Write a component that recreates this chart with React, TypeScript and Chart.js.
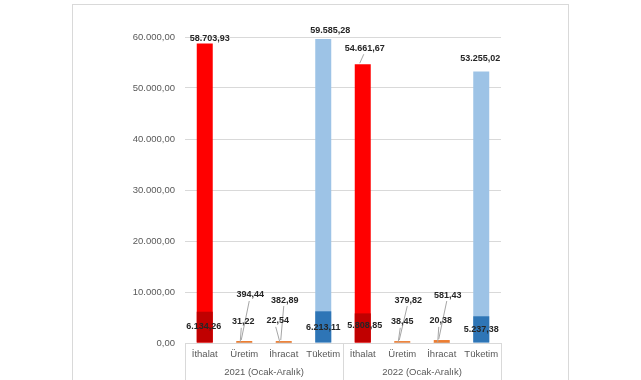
import React, { useEffect, useRef } from "react";
import { Chart, registerables } from "chart.js";

Chart.register(...registerables);

const categories = ["İthalat", "Üretim", "İhracat", "Tüketim", "İthalat", "Üretim", "İhracat", "Tüketim"];
const groups = ["2021 (Ocak-Aralık)", "2022 (Ocak-Aralık)"];
const totalValues = [58703.93, 394.44, 382.89, 59585.28, 54661.67, 379.82, 581.43, 53255.02];
const detailValues = [6134.26, 31.22, 22.54, 6213.11, 5808.85, 38.45, 20.38, 5237.38];
const yMax = 60000;
const yStep = 10000;

const totalColors = ["#FF0000", "#ED7D31", "#ED7D31", "#9DC3E6", "#FF0000", "#ED7D31", "#ED7D31", "#9DC3E6"];
const detailColors = ["#C00000", "#C55A11", "#C55A11", "#2E75B6", "#C00000", "#C55A11", "#C55A11", "#2E75B6"];

// label placement relative to bar centre / bar top (dx, dy)
const totalLabelOffsets = [[5, -5], [6, -46], [1, -41], [7, -9], [2, -16], [6, -41], [6, -45], [-1, -13]];
const detailLabelOffsets = [[-1, 15], [-1, -21], [-6, -22], [0, 16], [2, 12], [0, -21], [-1, -22], [0, 13]];
const totalLeaders = [false, true, true, false, true, true, true, false];
const detailLeaders = [false, true, true, false, false, true, true, false];

function fmt(v: number): string {
  const fixed = v.toFixed(2);
  const [intPart, dec] = fixed.split(".");
  const withDots = intPart.replace(/\B(?=(\d{3})+(?!\d))/g, ".");
  return withDots + "," + dec;
}

const FONT = "'Liberation Sans', Arial, sans-serif";
const GRID = "#D9D9D9";

const decorPlugin = {
  id: "decor",
  beforeDraw(chart: any) {
    const ctx = chart.ctx;
    ctx.save();
    ctx.fillStyle = "#FFFFFF";
    ctx.fillRect(0, 0, chart.width, chart.height);
    ctx.strokeStyle = GRID;
    ctx.lineWidth = 1;
    ctx.strokeRect(72.5, 4.5, 496, 420);
    ctx.restore();
  },
  afterDraw(chart: any) {
    const ctx = chart.ctx;
    const area = chart.chartArea;
    const x = chart.scales.x;
    const n = categories.length;
    const per = n / groups.length;
    ctx.save();
    ctx.strokeStyle = GRID;
    ctx.lineWidth = 1;
    const step = (area.right - area.left) / n;
    for (let g = 0; g <= groups.length; g++) {
      const px = Math.round(area.left + g * per * step) + 0.5;
      ctx.beginPath();
      ctx.moveTo(px, area.bottom);
      ctx.lineTo(px, chart.height);
      ctx.stroke();
    }
    ctx.fillStyle = "#595959";
    ctx.font = "9.5px " + FONT;
    ctx.textAlign = "center";
    ctx.textBaseline = "middle";
    for (let g = 0; g < groups.length; g++) {
      const cx = area.left + (g + 0.5) * per * step;
      ctx.fillText(groups[g], cx, area.bottom + 29);
    }
    ctx.restore();
  },
  afterDatasetsDraw(chart: any) {
    const ctx = chart.ctx;
    ctx.save();
    ctx.font = "bold 9px " + FONT;
    ctx.textAlign = "center";
    ctx.textBaseline = "middle";
    const draw = (dsIndex: number, values: number[], offsets: number[][], leaders: boolean[], isTotal: boolean) => {
      const meta = chart.getDatasetMeta(dsIndex);
      meta.data.forEach((bar: any, i: number) => {
        const lx = bar.x + offsets[i][0];
        const ly = bar.y + offsets[i][1];
        if (leaders[i]) {
          ctx.strokeStyle = "#A6A6A6";
          ctx.lineWidth = 1;
          ctx.beginPath();
          if (isTotal) {
            ctx.moveTo(lx - 1, ly + 6);
            ctx.lineTo(bar.x - 3, bar.y - 1);
          } else {
            ctx.moveTo(lx - 2, ly + 6);
            ctx.lineTo(bar.x - 4, bar.y - 1);
          }
          ctx.stroke();
        }
        ctx.fillStyle = "#262626";
        ctx.fillText(fmt(values[i]), lx, ly);
      });
    };
    draw(1, totalValues, totalLabelOffsets, totalLeaders, true);
    draw(0, detailValues, detailLabelOffsets, detailLeaders, false);
    ctx.restore();
  },
};

export default function App() {
  const ref = useRef<HTMLCanvasElement>(null);
  useEffect(() => {
    document.body.style.margin = "0";
    const chart = new Chart(ref.current as HTMLCanvasElement, {
      type: "bar",
      data: {
        labels: categories,
        datasets: [
          {
            label: "detail",
            data: detailValues,
            backgroundColor: detailColors,
            grouped: false,
            order: 0,
            barPercentage: 0.405,
            categoryPercentage: 1,
          } as any,
          {
            label: "total",
            data: totalValues,
            backgroundColor: totalColors,
            grouped: false,
            order: 1,
            barPercentage: 0.405,
            categoryPercentage: 1,
          } as any,
        ],
      },
      options: {
        responsive: false,
        animation: false,
        layout: { padding: { top: 37, right: 140, bottom: 0, left: 0 } },
        plugins: { legend: { display: false }, tooltip: { enabled: false } },
        scales: {
          x: {
            grid: { display: false, drawTicks: false },
            border: { display: true, color: GRID },
            ticks: { color: "#595959", font: { family: FONT, size: 9.5 }, padding: 6, maxRotation: 0, autoSkip: false },
            afterFit(scale: any) {
              scale.height = 37;
            },
          },
          y: {
            min: 0,
            max: yMax,
            grid: { color: GRID, drawTicks: false },
            border: { display: false },
            ticks: {
              stepSize: yStep,
              color: "#595959",
              font: { family: FONT, size: 9.5 },
              padding: 10,
              callback: (v: any) => fmt(Number(v)),
            },
            afterFit(scale: any) {
              scale.width = 185;
            },
          },
        },
      },
      plugins: [decorPlugin],
    });
    return () => chart.destroy();
  }, []);
  return (
    <div style={{ position: "fixed", left: 0, top: 0 }}>
      <canvas ref={ref} width={641} height={380} style={{ display: "block" }} />
    </div>
  );
}
